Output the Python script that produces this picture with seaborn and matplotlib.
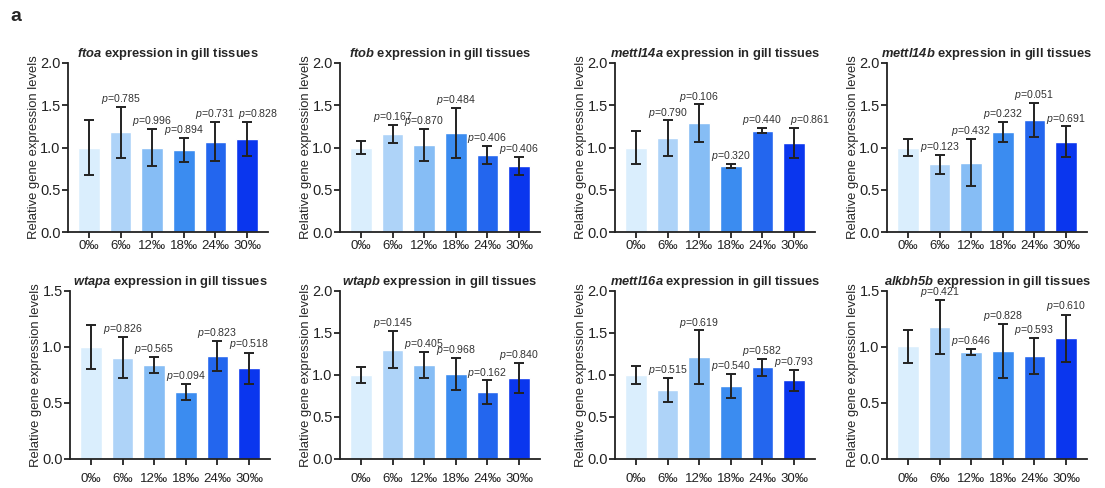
import numpy as np
import pandas as pd
import matplotlib
matplotlib.use("Agg")
import matplotlib.pyplot as plt
import seaborn as sns

sns.set_style("ticks")
plt.rcParams['font.family'] = ['Liberation Sans', 'DejaVu Sans']
plt.rcParams['mathtext.fontset'] = 'custom'
plt.rcParams['mathtext.rm'] = 'Liberation Sans'
plt.rcParams['mathtext.it'] = 'Liberation Sans:italic'
plt.rcParams['mathtext.bf'] = 'Liberation Sans:bold'
plt.rcParams['mathtext.bfit'] = 'Liberation Sans:bold:italic'

salinity = ['0‰', '6‰', '12‰', '18‰', '24‰', '30‰']
palette = ['#DAEEFD', '#AED3F8', '#86BDF5', '#3B8CF0', '#2366EE', '#0A36EE']

genes = ['ftoa', 'ftob', 'mettl14a', 'mettl14b', 'wtapa', 'wtapb', 'mettl16a', 'alkbh5b']
ymax = [2.0, 2.0, 2.0, 2.0, 1.5, 2.0, 2.0, 1.5]

ftoa_mean = [1.00, 1.18, 1.00, 0.97, 1.07, 1.10]
ftoa_err = [0.32, 0.30, 0.22, 0.14, 0.23, 0.20]
ftoa_p = [None, 0.785, 0.996, 0.894, 0.731, 0.828]

ftob_mean = [1.00, 1.16, 1.03, 1.17, 0.91, 0.78]
ftob_err = [0.08, 0.11, 0.19, 0.30, 0.11, 0.11]
ftob_p = [None, 0.167, 0.870, 0.484, 0.406, 0.406]

mettl14a_mean = [1.00, 1.11, 1.29, 0.78, 1.20, 1.05]
mettl14a_err = [0.19, 0.21, 0.22, 0.025, 0.03, 0.18]
mettl14a_p = [None, 0.790, 0.106, 0.320, 0.440, 0.861]

mettl14b_mean = [1.00, 0.80, 0.82, 1.18, 1.33, 1.07]
mettl14b_err = [0.095, 0.11, 0.28, 0.12, 0.20, 0.18]
mettl14b_p = [None, 0.123, 0.432, 0.232, 0.051, 0.691]

wtapa_mean = [1.00, 0.905, 0.84, 0.60, 0.92, 0.81]
wtapa_err = [0.20, 0.18, 0.07, 0.07, 0.13, 0.14]
wtapa_p = [None, 0.826, 0.565, 0.094, 0.823, 0.518]

wtapb_mean = [1.00, 1.30, 1.12, 1.01, 0.795, 0.965]
wtapb_err = [0.09, 0.22, 0.155, 0.19, 0.14, 0.175]
wtapb_p = [None, 0.145, 0.405, 0.968, 0.162, 0.840]

mettl16a_mean = [1.00, 0.82, 1.21, 0.87, 1.09, 0.935]
mettl16a_err = [0.11, 0.145, 0.32, 0.14, 0.105, 0.13]
mettl16a_p = [None, 0.515, 0.619, 0.540, 0.582, 0.793]

alkbh5b_mean = [1.005, 1.18, 0.955, 0.965, 0.92, 1.08]
alkbh5b_err = [0.15, 0.24, 0.025, 0.24, 0.16, 0.21]
alkbh5b_p = [None, 0.421, 0.646, 0.828, 0.593, 0.610]

means = [ftoa_mean, ftob_mean, mettl14a_mean, mettl14b_mean,
         wtapa_mean, wtapb_mean, mettl16a_mean, alkbh5b_mean]
errs = [ftoa_err, ftob_err, mettl14a_err, mettl14b_err,
        wtapa_err, wtapb_err, mettl16a_err, alkbh5b_err]
pvals = [ftoa_p, ftob_p, mettl14a_p, mettl14b_p,
         wtapa_p, wtapb_p, mettl16a_p, alkbh5b_p]

# labels that sit a little to the right in the original, (panel, bar): shift
label_nudge = {(0, 5): 0.36, (2, 5): 0.5}

fig = plt.figure(figsize=(11.05, 4.88), dpi=100)
W, H = 1105, 488
lefts_top = [68, 340, 615, 887]
lefts_bot = [70, 340, 615, 887]
ax_w = 200

axes = []
for i in range(8):
    row = i // 4
    left = (lefts_top if row == 0 else lefts_bot)[i % 4]
    top, bottom = (63, 232) if row == 0 else (291, 459)
    ax = fig.add_axes([left / W, (H - bottom) / H, ax_w / W, (bottom - top) / H])
    axes.append(ax)

ink = '#222222'
for i, ax in enumerate(axes):
    df = pd.DataFrame({'salinity': salinity, 'value': means[i]})
    sns.barplot(data=df, x='salinity', y='value', hue='salinity', palette=palette,
                order=salinity, legend=False, errorbar=None, width=0.68,
                saturation=1, ax=ax)
    x = np.arange(len(salinity))
    ax.errorbar(x, means[i], yerr=errs[i], fmt='none', ecolor=ink,
                elinewidth=1.4, capsize=3.8, capthick=1.4)
    for j, p in enumerate(pvals[i]):
        if p is None:
            continue
        ax.text(j + label_nudge.get((i, j), 0), means[i][j] + errs[i][j] + 0.01,
                r'$\mathit{p}$=' + f'{p:.3f}',
                ha='center', va='bottom', fontsize=7.6, color='#333333',
                clip_on=False)
    ax.set_xlim(-0.665, 5.665)
    ax.set_ylim(0, ymax[i])
    ax.set_yticks(np.arange(0, ymax[i] + 0.01, 0.5))
    ax.yaxis.set_major_formatter(matplotlib.ticker.FormatStrFormatter('%.1f'))
    ax.set_xlabel('')
    ax.set_ylabel('Relative gene expression levels', fontsize=9.4, labelpad=0)
    ax.set_title(r'$\mathbfit{' + genes[i] + '}$ expression in gill tissues',
                 fontsize=9.3, fontweight='bold', pad=4.5)
    sns.despine(ax=ax)
    for s in ['left', 'bottom']:
        ax.spines[s].set_linewidth(1.3)
        ax.spines[s].set_color(ink)
    ax.tick_params(axis='y', labelsize=10.5, width=1.3, length=4.3, color=ink,
                   pad=1, labelcolor='#222222')
    ax.tick_params(axis='x', labelsize=9.5, width=1.3, length=4.3, color=ink,
                   pad=1.5 if i < 4 else 6, labelcolor='#222222')

fig.text(10 / W, 1 - 21 / H, 'a', fontsize=14, fontweight='bold')
fig.savefig('out.png', dpi=100)
